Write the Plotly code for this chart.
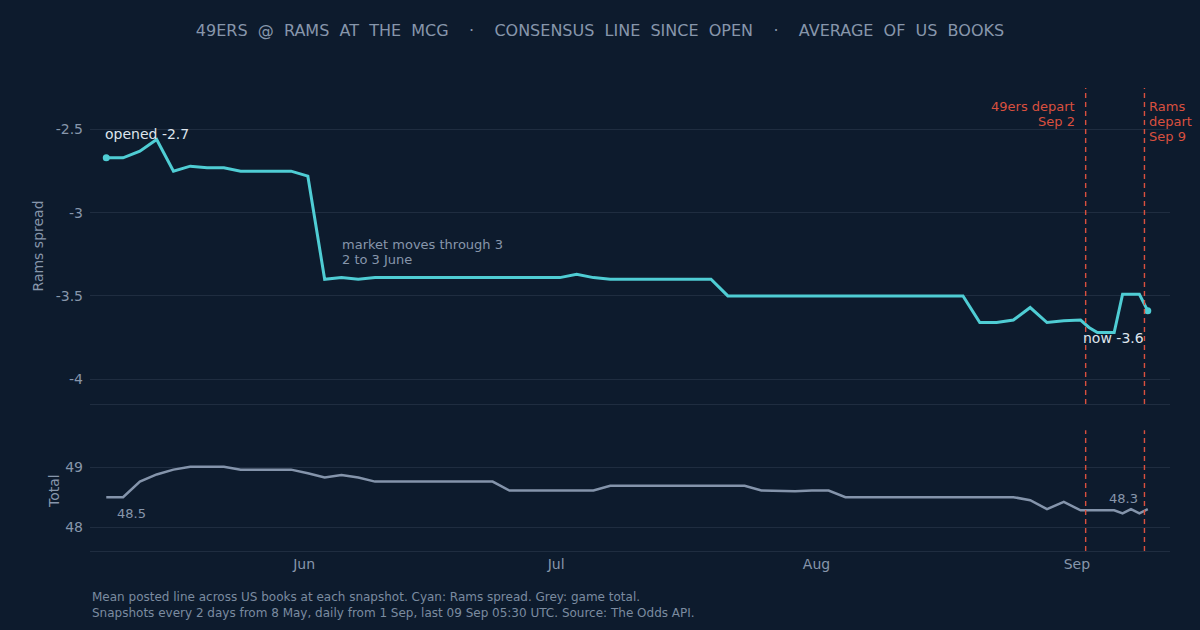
import plotly.graph_objects as go

# ---- data ----
snapshot_dates = [
    "2026-05-08", "2026-05-10", "2026-05-12", "2026-05-14", "2026-05-16", "2026-05-18",
    "2026-05-20", "2026-05-22", "2026-05-24", "2026-05-26", "2026-05-28", "2026-05-30",
    "2026-06-01", "2026-06-03", "2026-06-05", "2026-06-07", "2026-06-09", "2026-06-11",
    "2026-06-13", "2026-06-15", "2026-06-17", "2026-06-19", "2026-06-21", "2026-06-23",
    "2026-06-25", "2026-06-27", "2026-06-29",
    "2026-07-01", "2026-07-03", "2026-07-05", "2026-07-07", "2026-07-09", "2026-07-11",
    "2026-07-13", "2026-07-15", "2026-07-17", "2026-07-19", "2026-07-21", "2026-07-23",
    "2026-07-25", "2026-07-27", "2026-07-29", "2026-07-31",
    "2026-08-02", "2026-08-04", "2026-08-06", "2026-08-08", "2026-08-10", "2026-08-12",
    "2026-08-14", "2026-08-16", "2026-08-18", "2026-08-20", "2026-08-22", "2026-08-24",
    "2026-08-26", "2026-08-28", "2026-08-30",
    "2026-09-01", "2026-09-02", "2026-09-03", "2026-09-04", "2026-09-05", "2026-09-06",
    "2026-09-07", "2026-09-08", "2026-09-09",
]
snapshot_time = " 10:30"

rams_spread = [
    -2.67, -2.67, -2.63, -2.56, -2.75, -2.72, -2.73, -2.73, -2.75, -2.75, -2.75, -2.75,
    -2.78, -3.40, -3.39, -3.40, -3.39, -3.39, -3.39, -3.39, -3.39, -3.39, -3.39, -3.39,
    -3.39, -3.39, -3.39,
    -3.39, -3.37, -3.39, -3.40, -3.40, -3.40, -3.40, -3.40, -3.40, -3.40, -3.50, -3.50,
    -3.50, -3.50, -3.50, -3.50,
    -3.50, -3.50, -3.50, -3.50, -3.50, -3.50, -3.50, -3.50, -3.50, -3.66, -3.66, -3.645,
    -3.57, -3.66, -3.65,
    -3.645, -3.69, -3.72, -3.72, -3.72, -3.49, -3.49, -3.49, -3.59,
]

game_total = [
    48.5, 48.5, 48.76, 48.88, 48.96, 49.01, 49.01, 49.01, 48.96, 48.96, 48.96, 48.96,
    48.9, 48.83, 48.87, 48.83, 48.76, 48.76, 48.76, 48.76, 48.76, 48.76, 48.76, 48.76,
    48.61, 48.61, 48.61,
    48.61, 48.62, 48.61, 48.69, 48.69, 48.69, 48.69, 48.69, 48.69, 48.69, 48.69, 48.69,
    48.61, 48.605, 48.6, 48.61,
    48.61, 48.5, 48.5, 48.5, 48.5, 48.5, 48.5, 48.5, 48.5, 48.5, 48.5, 48.5,
    48.45, 48.3, 48.42,
    48.28, 48.28, 48.28, 48.28, 48.28, 48.23, 48.3, 48.23, 48.3,
]

departures = ["2026-09-02 01:00", "2026-09-09 01:00"]
departure_labels = [["49ers depart", "Sep 2"], ["Rams", "depart", "Sep 9"]]
move_note = ["market moves through 3", "2 to 3 June"]

spread_ticks = [-2.5, -3, -3.5, -4]
spread_ticktext = ["-2.5", "-3", "-3.5", "-4"]
total_ticks = [48, 49]

# ---- styling ----
BG = "#0d1b2d"
GRID = "#1f2d40"
AXIS_TXT = "#8796ab"
CYAN = "#4fcdd4"
GREY_LINE = "#8494ab"
RED = "#d9503f"
LIGHT = "#dde4ec"
FONT = "DejaVu Sans"

x = [d + snapshot_time for d in snapshot_dates]

fig = go.Figure()
fig.add_trace(go.Scatter(x=x, y=rams_spread, mode="lines", line=dict(color=CYAN, width=3),
                         xaxis="x", yaxis="y", showlegend=False, hoverinfo="skip"))
fig.add_trace(go.Scatter(x=[x[0], x[-1]], y=[rams_spread[0], rams_spread[-1]], mode="markers",
                         marker=dict(color=CYAN, size=7), xaxis="x", yaxis="y",
                         showlegend=False, hoverinfo="skip"))
fig.add_trace(go.Scatter(x=x, y=game_total, mode="lines", line=dict(color=GREY_LINE, width=2.5),
                         xaxis="x2", yaxis="y2", showlegend=False, hoverinfo="skip"))

xrange = ["2026-05-06 12:00", "2026-09-12 02:00"]

fig.update_layout(
    width=1200, height=630,
    paper_bgcolor=BG, plot_bgcolor=BG,
    margin=dict(l=90, r=30, t=88, b=79),
    font=dict(family=FONT, color=AXIS_TXT, size=14),
    title=dict(
        text="49ERS\u00a0\u00a0@\u00a0\u00a0RAMS\u00a0\u00a0AT\u00a0\u00a0THE\u00a0\u00a0MCG\u00a0\u00a0\u00a0\u00a0·\u00a0\u00a0\u00a0\u00a0"
             "CONSENSUS\u00a0\u00a0LINE\u00a0\u00a0SINCE\u00a0\u00a0OPEN\u00a0\u00a0\u00a0\u00a0·\u00a0\u00a0\u00a0\u00a0"
             "AVERAGE\u00a0\u00a0OF\u00a0\u00a0US\u00a0\u00a0BOOKS",
        x=0.5, xanchor="center", y=0.951, yanchor="middle",
        font=dict(family=FONT, size=16, color=AXIS_TXT),
    ),
    xaxis=dict(domain=[0, 1], range=xrange, type="date", anchor="y", matches="x2",
               showticklabels=False, showgrid=False, zeroline=False,
               showline=True, linecolor=GRID, linewidth=1, ticks=""),
    yaxis=dict(domain=[0.3175, 1], range=[-4.15, -2.25], anchor="x",
               tickvals=spread_ticks, ticktext=spread_ticktext,
               gridcolor=GRID, gridwidth=1, zeroline=False, showline=False,
               ticks="", ticklabelstandoff=6,
               title=dict(text="Rams spread", font=dict(size=14, color=AXIS_TXT), standoff=8)),
    xaxis2=dict(domain=[0, 1], range=xrange, type="date", anchor="y2",
                tickformat="%b", dtick="M1", tick0="2026-06-01",
                showgrid=False, zeroline=False, showline=True, linecolor=GRID, linewidth=1,
                ticks="", ticklabelstandoff=0, tickfont=dict(size=14, color=AXIS_TXT)),
    yaxis2=dict(domain=[0, 0.261], range=[47.6, 49.62], anchor="x2",
                tickvals=total_ticks, gridcolor=GRID, gridwidth=1, zeroline=False,
                ticks="", ticklabelstandoff=6,
                title=dict(text="Total", font=dict(size=14, color=AXIS_TXT), standoff=2)),
)

# departure lines
shapes = []
for d in departures:
    for yr in ["y domain", "y2 domain"]:
        shapes.append(dict(type="line", xref="x", yref=yr, x0=d, x1=d, y0=0, y1=1,
                           line=dict(color=RED, width=1.4, dash="5px,4px")))
fig.update_layout(shapes=shapes)

ann = []
LINE_H = 15
for k, line in enumerate(departure_labels[0]):
    ann.append(dict(x=departures[0], y=1, xref="x", yref="y domain", text=line,
                    showarrow=False, xanchor="right", yanchor="middle", xshift=-9,
                    yshift=-18 - k * LINE_H, font=dict(color=RED, size=13, family=FONT)))
for k, line in enumerate(departure_labels[1]):
    ann.append(dict(x=departures[1], y=1, xref="x", yref="y domain", text=line,
                    showarrow=False, xanchor="left", yanchor="middle", xshift=3,
                    yshift=-18 - k * LINE_H, font=dict(color=RED, size=13, family=FONT)))
for k, line in enumerate(move_note):
    ann.append(dict(x="2026-06-05 05:30", y=-3.16, xref="x", yref="y", text=line,
                    showarrow=False, xanchor="left", yanchor="middle", xshift=0,
                    yshift=-5 - k * LINE_H, font=dict(color=AXIS_TXT, size=13, family=FONT)))
ann.append(dict(x=x[0], y=rams_spread[0], xref="x", yref="y", text="opened -2.7",
                showarrow=False, xanchor="left", yanchor="middle", xshift=-3, yshift=24,
                font=dict(color=LIGHT, size=14, family=FONT)))
ann.append(dict(x=x[-1], y=rams_spread[-1], xref="x", yref="y", text="now -3.6",
                showarrow=False, xanchor="right", yanchor="middle", xshift=-2, yshift=-27,
                font=dict(color=LIGHT, size=14, family=FONT)))
ann.append(dict(x=x[0], y=game_total[0], xref="x2", yref="y2", text="48.5",
                showarrow=False, xanchor="left", yanchor="middle", xshift=9, yshift=-16,
                font=dict(color=AXIS_TXT, size=13, family=FONT)))
ann.append(dict(x=x[-1], y=game_total[-1], xref="x2", yref="y2", text="48.3",
                showarrow=False, xanchor="right", yanchor="middle", xshift=-8, yshift=11,
                font=dict(color=AXIS_TXT, size=13, family=FONT)))
ann.append(dict(x=0, y=-0.079, xref="paper", yref="paper",
                text="Mean posted line across US books at each snapshot. Cyan: Rams spread. Grey: game total.<br>"
                     "Snapshots every 2 days from 8 May, daily from 1 Sep, last 09 Sep 05:30 UTC. Source: The Odds API.",
                showarrow=False, xanchor="left", yanchor="top", align="left",
                font=dict(color="#7b8ba0", size=12, family=FONT)))
fig.update_layout(annotations=ann)

fig.write_html("out.html")
